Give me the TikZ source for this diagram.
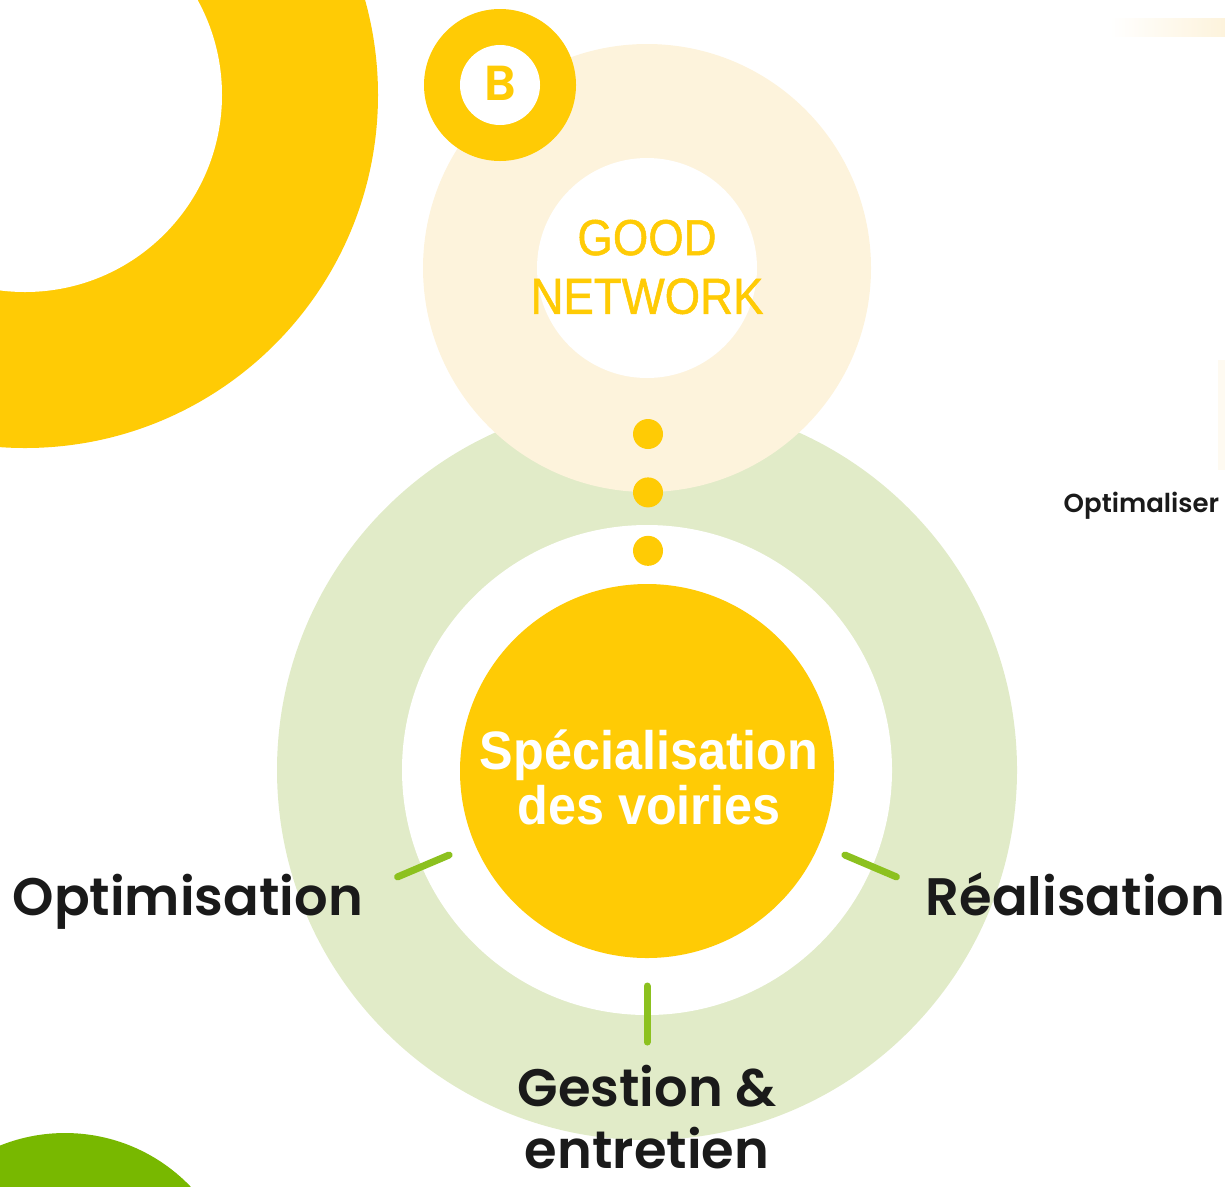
\documentclass[tikz,border=0pt]{standalone}
\usepackage{fontspec}
\setmainfont{Poppins}[BoldFont={Poppins SemiBold}]
\newfontfamily\specfont[FakeStretch=0.93]{Liberation Sans}
\newfontfamily\netfont[FakeStretch=0.9,FakeBold=1]{Liberation Sans}
\usetikzlibrary{positioning}

\definecolor{gnyellow}{HTML}{FFCB05}
\definecolor{gnbeige}{HTML}{FDF3DC}
\definecolor{gnpale}{HTML}{E1EBC8}
\definecolor{gntick}{HTML}{8CC11F}
\definecolor{gnleaf}{HTML}{78B800}
\definecolor{gnink}{HTML}{1A1A1A}

\begin{document}
\begin{tikzpicture}[
  disc/.style={circle, inner sep=0pt, minimum size=#1},
  spoke/.style={draw=gntick, line width=2pt, line cap=round},
  bead/.style={circle, fill=gnyellow, inner sep=0pt, minimum size=3mm},
  lbl/.style={font=\fontsize{15}{18}\selectfont\bfseries, text=gnink, inner sep=0pt},
  inner/.style={font=\specfont\bfseries\fontsize{15.4}{15.6}\selectfont, text=white, align=center, inner sep=0pt}]
\useasboundingbox (0,0) rectangle (12.25,-11.86);
\clip (0,0) rectangle (12.25,-11.86);
% faint traces at the right edge
\shade[left color=white, right color=gnbeige] (11.10,-0.18) rectangle (12.25,-0.36);
\fill[gnbeige!40] (12.18,-3.60) rectangle (12.25,-4.70);
% big ring top left
\node[disc=70.6mm, fill=gnyellow] (sun) at (0.25,-0.95) {};
\node[disc=39.4mm, fill=white] (suncore) at (sun) {};
% green ring with the hub
\node[disc=74mm, fill=gnpale] (ring) at (6.47,-7.70) {};
\node[disc=49mm, fill=white] (ringcore) at (ring) {};
% good network halo
\node[disc=44.8mm, fill=gnbeige] (halo) at (6.47,-2.68) {};
\node[disc=22mm, fill=white] (halocore) at (halo) {};
\node[font=\netfont\fontsize{14.4}{16.7}\selectfont, text=gnyellow, align=center, inner sep=0pt]
  (net) at (6.47,-2.67) {GOOD\\NETWORK};
% badge B
\node[disc=15.2mm, fill=gnyellow] (badge) at (5.00,-0.85) {};
\node[disc=8mm, fill=white] (badgecore) at (badge) {};
\node[font=\fontsize{14}{16}\selectfont\bfseries, text=gnyellow, inner sep=0pt] (blet) at (5.00,-0.83) {B};
% dotted link
\node[bead] (bead1) at (6.48,-4.34) {};
\node[bead, below=2.7mm of bead1] (bead2) {};
\node[bead, below=2.7mm of bead2] (bead3) {};
% hub
\node[disc=37.4mm, fill=gnyellow] (hub) at (6.47,-7.71) {};
\node[inner] (spec) at (6.49,-7.77) {Spécialisation\\des voiries};
\foreach \a/\n in {203/l,270/b,337/r}{
  \path (hub.center) ++(\a:2.15) coordinate (s\n1) (hub.center) ++(\a:2.71) coordinate (s\n2);
  \draw[spoke] (s\n1) -- (s\n2);
}
\node[lbl, anchor=base west] (opt) at (0.12,-9.15) {Optimisation};
\node[lbl, anchor=base west] (real) at (9.25,-9.15) {Réalisation};
\node[lbl, align=center, font=\fontsize{15}{17.9}\selectfont\bfseries] (gest) at (6.47,-11.17) {Gestion \&\\entretien};
\node[font=\fontsize{7.4}{9}\selectfont\bfseries, text=gnink, anchor=base west, inner sep=0pt] (optl) at (10.63,-5.12) {Optimaliser};
% green blob bottom left
\node[disc=34.8mm, fill=gnleaf] (leaf) at (0.65,-13.07) {};
\end{tikzpicture}
\end{document}
